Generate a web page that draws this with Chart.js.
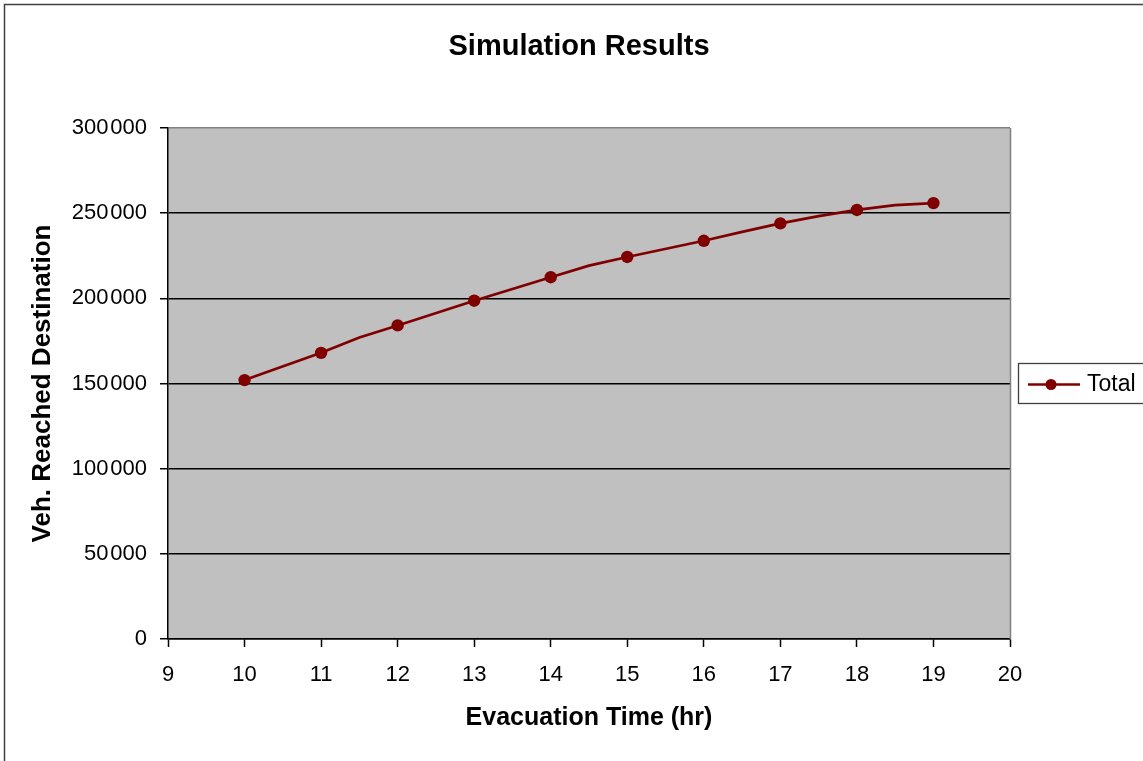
<!DOCTYPE html>
<html>
<head>
<meta charset="utf-8">
<title>Simulation Results</title>
<script src="https://cdn.jsdelivr.net/npm/chart.js@4/dist/chart.umd.min.js"></script>
<style>
  html, body { margin: 0; padding: 0; background: #ffffff; }
  #wrap { width: 1143px; height: 761px; }
</style>
</head>
<body>
<div id="wrap"><canvas id="chart" width="1143" height="761"></canvas></div>
<script>
// Evacuation simulation: cumulative vehicles that reached their destination
const hours    = [10, 11, 11.5, 12, 13, 14, 14.5, 15, 16, 16.5, 17, 17.5, 18, 18.5, 19];
const vehicles = [152000, 168000, 177000, 184100, 198600, 212400, 219200, 224300,
                  233800, 239000, 244000, 248300, 251900, 254700, 255900];
const seriesName = 'Total';
const chartTitle = 'Simulation Results';
const xTitle = 'Evacuation Time (hr)';
const yTitle = 'Veh. Reached Destination';
const xMin = 9, xMax = 20, xStep = 1;
const yMin = 0, yMax = 300000, yStep = 50000;

const FONT = "'Liberation Sans', Arial, sans-serif";
const LINE_COLOR = '#800000';
const PLOT_BG = '#c0c0c0';
const PLOT_EDGE = '#808080';

function groupThousands(v) {
  return String(v).replace(/\B(?=(\d{3})+(?!\d))/g, '\u200A');
}

// Gray plot background, plus a thin frame round the whole chart
const framePlugin = {
  id: 'frame',
  beforeDraw(chart) {
    const { ctx, chartArea: a } = chart;
    ctx.save();
    ctx.fillStyle = '#ffffff';
    ctx.fillRect(0, 0, chart.width, chart.height);
    ctx.fillStyle = PLOT_BG;
    ctx.fillRect(a.left, a.top, a.right - a.left, a.bottom - a.top);
    ctx.restore();
  },
  afterDraw(chart) {
    const { ctx, chartArea: a } = chart;
    ctx.save();
    // right edge of the plot area
    ctx.strokeStyle = PLOT_EDGE;
    ctx.lineWidth = 1.5;
    ctx.beginPath();
    ctx.moveTo(Math.round(a.right) + 0.5, a.top);
    ctx.lineTo(Math.round(a.right) + 0.5, a.bottom);
    ctx.stroke();
    // outer chart frame
    ctx.strokeStyle = '#404040';
    ctx.lineWidth = 1.5;
    ctx.strokeRect(4.5, 4.5, chart.width + 40, chart.height + 40);
    ctx.restore();
  }
};

// Boxed legend on the right, registered as a layout box so it reserves its own column
const LEGEND_WIDTH = 133;
const sideLegendPlugin = {
  id: 'sideLegend',
  beforeInit(chart) {
    const box = {
      position: 'right',
      weight: 1000,
      fullSize: false,
      options: { stackWeight: 1 },
      left: 0, top: 0, right: 0, bottom: 0, width: 0, height: 0,
      isHorizontal() { return false; },
      update(maxWidth, maxHeight) {
        this.width = LEGEND_WIDTH;
        this.height = maxHeight;
      },
      getPadding() { return { top: 0, left: 0, right: 0, bottom: 0 }; },
      draw() {
        const ctx = chart.ctx;
        const a = chart.chartArea;
        const ds = chart.data.datasets[0];
        const cy = Math.round((a.top + a.bottom) / 2) - 0.5;
        const x0 = this.left;
        ctx.save();
        ctx.fillStyle = '#ffffff';
        ctx.fillRect(x0 + 8.5, cy - 20, 200, 40);
        ctx.strokeStyle = '#404040';
        ctx.lineWidth = 1.3;
        ctx.strokeRect(Math.round(x0 + 8) + 0.5, cy - 20, 200, 40);
        ctx.strokeStyle = ds.borderColor;
        ctx.lineWidth = 2.5;
        ctx.beginPath();
        ctx.moveTo(x0 + 18, cy + 1);
        ctx.lineTo(x0 + 70, cy + 1);
        ctx.stroke();
        ctx.fillStyle = ds.backgroundColor;
        ctx.beginPath();
        ctx.arc(x0 + 41, cy + 1, 5.5, 0, Math.PI * 2);
        ctx.fill();
        ctx.fillStyle = '#000000';
        ctx.font = '23px ' + FONT;
        ctx.textBaseline = 'middle';
        ctx.textAlign = 'left';
        ctx.fillText(ds.label, x0 + 77, cy + 1);
        ctx.restore();
      }
    };
    Chart.layouts.addBox(chart, box);
  }
};

const points = hours.map((h, i) => ({ x: h, y: vehicles[i] }));

new Chart(document.getElementById('chart'), {
  type: 'line',
  data: {
    datasets: [{
      label: seriesName,
      data: points,
      borderColor: LINE_COLOR,
      backgroundColor: LINE_COLOR,
      borderWidth: 2.7,
      tension: 0,
      pointStyle: 'circle',
      pointRadius: ctx => (Number.isInteger(ctx.raw.x) ? 6.2 : 0),
      pointHoverRadius: ctx => (Number.isInteger(ctx.raw.x) ? 6.2 : 0),
      pointBorderWidth: 0,
      pointBackgroundColor: LINE_COLOR
    }]
  },
  options: {
    responsive: false,
    devicePixelRatio: 1,
    animation: false,
    events: [],
    layout: { padding: { left: 15, right: 0, top: 0, bottom: 0 } },
    plugins: {
      legend: { display: false },
      tooltip: { enabled: false },
      title: {
        display: true,
        text: chartTitle,
        color: '#000000',
        font: { family: FONT, size: 29, weight: 'bold' },
        padding: { top: 30, bottom: 63.2 }
      }
    },
    scales: {
      x: {
        type: 'linear',
        min: xMin,
        max: xMax,
        afterFit(scale) { scale.height = 122; },
        ticks: {
          stepSize: xStep,
          color: '#000000',
          padding: 15,
          font: { family: FONT, size: 22 }
        },
        grid: {
          drawOnChartArea: false,
          drawTicks: true,
          tickLength: 8,
          tickColor: '#000000',
          tickWidth: 1.5
        },
        border: { display: true, color: '#000000', width: 1.5 },
        title: {
          display: true,
          text: xTitle,
          color: '#000000',
          font: { family: FONT, size: 25, weight: 'bold' },
          padding: { top: 0, bottom: 27.5 }
        }
      },
      y: {
        type: 'linear',
        min: yMin,
        max: yMax,
        afterFit(scale) { scale.width = 153; },
        ticks: {
          stepSize: yStep,
          color: '#000000',
          padding: 13,
          font: { family: FONT, size: 22 },
          callback: v => groupThousands(v)
        },
        grid: {
          color: ctx => (ctx.tick && ctx.tick.value === yMax ? PLOT_EDGE : '#000000'),
          lineWidth: 1.5,
          drawTicks: true,
          tickLength: 8,
          tickColor: '#000000',
          tickWidth: 1.5
        },
        border: { display: true, color: '#000000', width: 1.5 },
        title: {
          display: true,
          text: yTitle,
          color: '#000000',
          font: { family: FONT, size: 26, weight: 'bold' },
          padding: { top: 12.4, bottom: 0 }
        }
      }
    }
  },
  plugins: [framePlugin, sideLegendPlugin]
});
</script>
</body>
</html>
